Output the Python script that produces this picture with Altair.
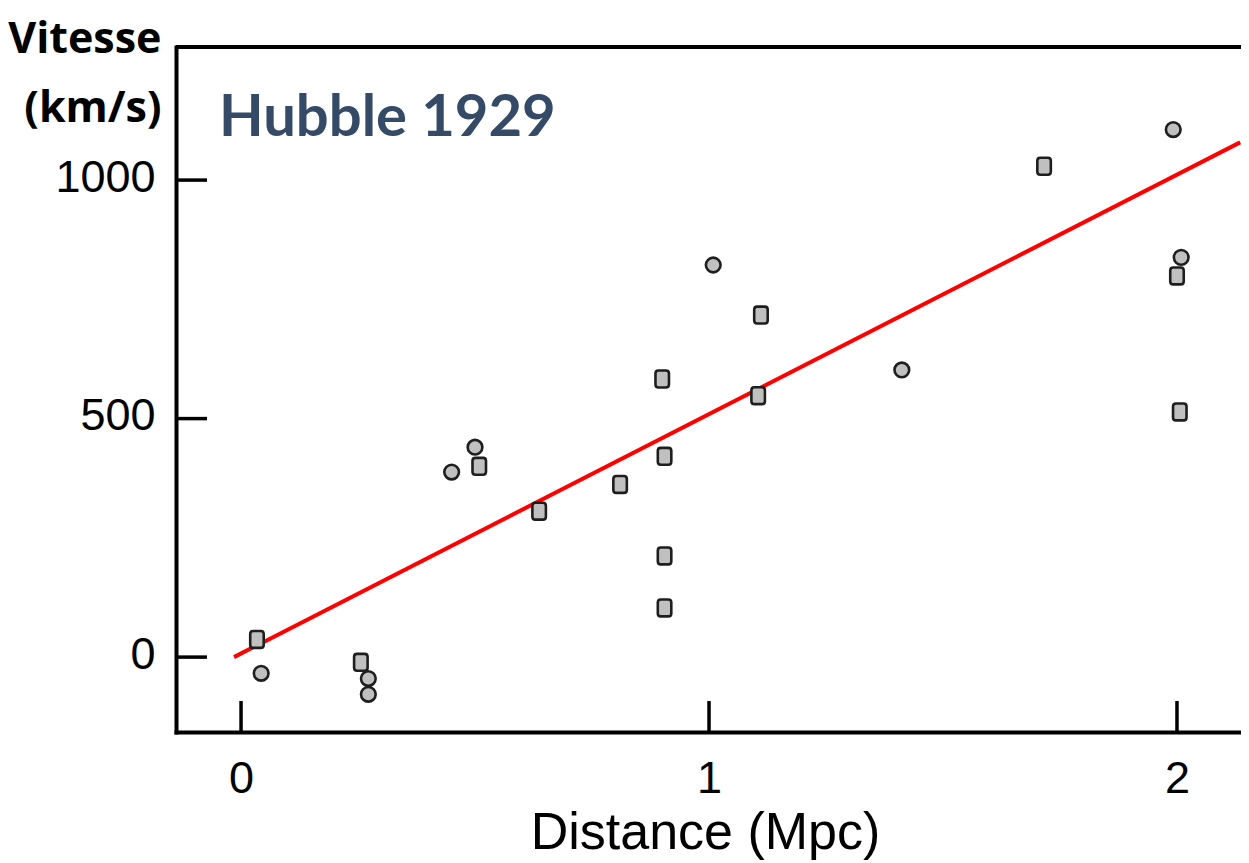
import altair as alt
import pandas as pd

# ---- data ----
distance = [0.034, 0.043, 0.256, 0.272, 0.272, 0.450, 0.500, 0.509, 0.637, 0.810,
            0.900, 0.905, 0.905, 0.905, 1.009, 1.111, 1.105, 1.412, 1.716, 1.992,
            2.009, 2.000, 2.006]
velocity = [37, -34, -11, -45, -78, 388, 440, 400, 306, 362,
            583, 421, 212, 103, 822, 717, 548, 602, 1029, 1106,
            838, 799, 514]
marker = ["s", "o", "s", "o", "o", "o", "o", "s", "s", "s",
          "s", "s", "s", "s", "o", "s", "s", "o", "s", "o",
          "o", "s", "s"]
fit_distance = [-0.015, 2.135]
fit_velocity = [0, 1079]
x_ticks = [0, 1, 2]
y_ticks = [0, 500, 1000]

W, H = 1065, 685
xs = alt.Scale(domain=[-0.139, 2.1368], nice=False, zero=False)
ys = alt.Scale(domain=[-157, 1279], nice=False, zero=False)

pts = pd.DataFrame({"d": distance, "v": velocity, "m": marker})
fit = pd.DataFrame({"d": fit_distance, "v": fit_velocity})
xt = pd.DataFrame({"t": x_ticks})
yt = pd.DataFrame({"t": y_ticks})

rounded = ("M -0.45,-1 L 0.45,-1 Q 0.8,-1 0.8,-0.65 L 0.8,0.65 Q 0.8,1 0.45,1 "
           "L -0.45,1 Q -0.8,1 -0.8,0.65 L -0.8,-0.65 Q -0.8,-1 -0.45,-1 Z")

x_axis = alt.Axis(values=x_ticks, format="d", title="Distance (Mpc)", grid=False, ticks=False, tickSize=0,
                  domainColor="black", domainWidth=4, domainCap="square",
                  labelFont="Liberation Sans", labelFontSize=45, labelColor="black",
                  labelPadding=24, labelFlush=False,
                  titleFont="Liberation Sans", titleFontSize=52, titleFontWeight="normal",
                  titleColor="black", titleX=529, titleY=116, titleAlign="center",
                  titleBaseline="alphabetic")
y_axis = alt.Axis(values=y_ticks, format="d", title=["Vitesse", "(km/s)"], grid=False, ticks=False, tickSize=0,
                  domainColor="black", domainWidth=4, domainCap="square",
                  labelFont="Liberation Sans", labelFontSize=45, labelColor="black",
                  labelPadding=21, labelOffset=-3, labelFlush=False,
                  titleFont="Open Sans", titleFontSize=43, titleFontWeight="bold", titleColor="black",
                  titleAngle=0, titleX=-15, titleY=5, titleAlign="right",
                  titleBaseline="alphabetic", titleLineHeight=69)

line = alt.Chart(fit).mark_line(color="#ff0000", strokeWidth=4).encode(
    x=alt.X("d:Q", scale=xs, axis=x_axis),
    y=alt.Y("v:Q", scale=ys, axis=y_axis),
)

xtick = alt.Chart(xt).mark_rule(color="black", strokeWidth=3.5).encode(
    x=alt.X("t:Q", scale=xs, axis=x_axis),
    y=alt.value(H - 31),
    y2=alt.value(H),
)

ytick = alt.Chart(yt).mark_rule(color="black", strokeWidth=3.5).encode(
    y=alt.Y("t:Q", scale=ys, axis=y_axis),
    x=alt.value(0),
    x2=alt.value(31),
)

top = alt.Chart(pd.DataFrame({"a": [0]})).mark_rule(color="black", strokeWidth=4).encode(
    y=alt.value(0), x=alt.value(0), x2=alt.value(W)
)

points = alt.Chart(pts).mark_point(filled=True, fill="#c0c0c0", stroke="#1e1e1e",
                                   strokeWidth=2.6, opacity=1).encode(
    x=alt.X("d:Q", scale=xs, axis=x_axis),
    y=alt.Y("v:Q", scale=ys, axis=y_axis),
    shape=alt.Shape("m:N", scale=alt.Scale(domain=["o", "s"], range=["circle", rounded]), legend=None),
    size=alt.Size("m:N", scale=alt.Scale(domain=["o", "s"], range=[215, 285]), legend=None),
)

label = alt.Chart(pd.DataFrame({"t": ["Hubble 1929"]})).mark_text(
    align="left", baseline="alphabetic", font="Lato", fontWeight="bold",
    fontSize=58, color="#344a66"
).encode(text="t:N", x=alt.value(43), y=alt.value(89))

chart = alt.layer(line, xtick, ytick, top, points, label).properties(
    width=W, height=H,
    autosize=alt.AutoSizeParams(type="none"),
    padding={"left": 168, "top": 39, "right": 0, "bottom": 130},
).configure_view(stroke=None)

chart.save("out.html", embed_options={"renderer": "svg", "actions": False})
